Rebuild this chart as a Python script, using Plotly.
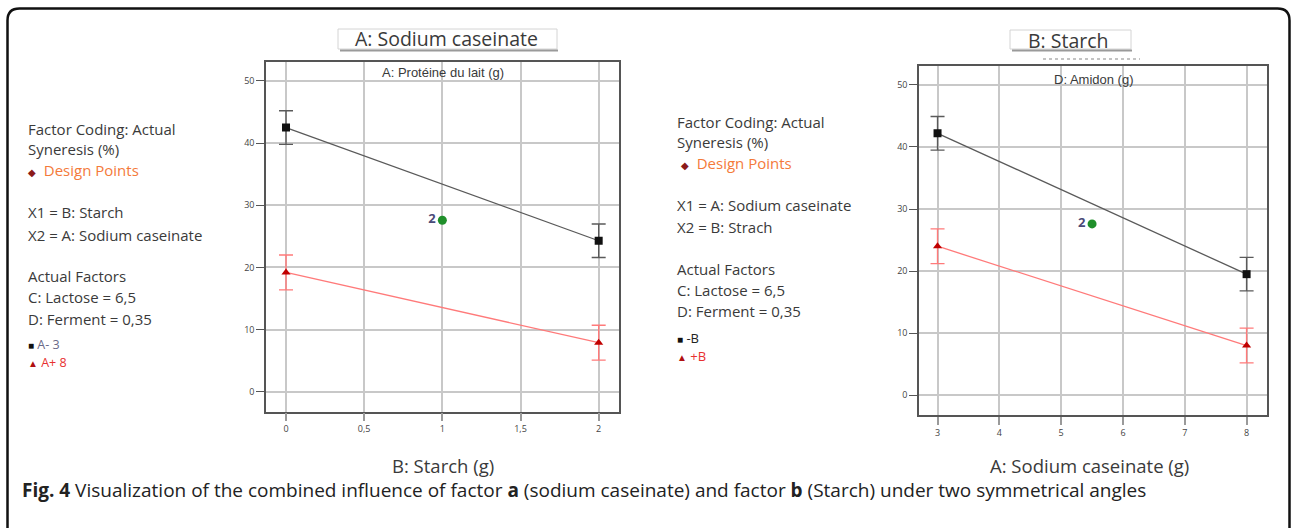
import plotly.graph_objects as go

W, H = 1292, 528

# ---------------- data ----------------
left_x = [0, 2]
left_low = [42.5, 24.3]        # A- 3
left_low_err = [2.7, 2.7]
left_high = [19.2, 7.9]        # A+ 8
left_high_err = [2.8, 2.8]
left_design_x = [1]
left_design_y = [27.6]
left_xticks = [0, 0.5, 1, 1.5, 2]
left_xticktext = ["0", "0,5", "1", "1,5", "2"]

right_x = [3, 8]
right_low = [42.2, 19.5]       # -B
right_low_err = [2.7, 2.7]
right_high = [24.0, 8.0]       # +B
right_high_err = [2.8, 2.8]
right_design_x = [5.5]
right_design_y = [27.6]
right_xticks = [3, 4, 5, 6, 7, 8]
right_xticktext = ["3", "4", "5", "6", "7", "8"]

y_ticks = [0, 10, 20, 30, 40, 50]

BLACK_LINE = "#5a5a5a"
RED_LINE = "#ff7a7a"
RED_MARK = "#c00000"
GREEN = "#1f8f2a"
TXT = "#3a3a3a"
FONT = "Open Sans"


def px(x):
    return x / W


def py(y):
    return 1 - y / H


fig = go.Figure()


def add_panel(xs, low, low_err, high, high_err, dx, dy, xa, ya):
    fig.add_trace(go.Scatter(
        x=xs, y=low, mode="lines+markers", xaxis=xa, yaxis=ya,
        line=dict(color=BLACK_LINE, width=1.3),
        marker=dict(symbol="square", size=8, color="#111111"),
        error_y=dict(type="data", array=low_err, visible=True,
                     color=BLACK_LINE, thickness=1.4, width=7),
        showlegend=False))
    fig.add_trace(go.Scatter(
        x=xs, y=high, mode="lines+markers", xaxis=xa, yaxis=ya,
        line=dict(color=RED_LINE, width=1.3),
        marker=dict(symbol="triangle-up", size=8, color=RED_MARK),
        error_y=dict(type="data", array=high_err, visible=True,
                     color=RED_LINE, thickness=1.4, width=7),
        showlegend=False))
    fig.add_trace(go.Scatter(
        x=dx, y=dy, mode="markers+text", xaxis=xa, yaxis=ya,
        marker=dict(symbol="circle", size=9, color=GREEN),
        text=["<b>2</b>"], textposition="middle left",
        textfont=dict(family=FONT, size=13, color="#4a4a78"),
        showlegend=False))


add_panel(left_x, left_low, left_low_err, left_high, left_high_err,
          left_design_x, left_design_y, "x", "y")
add_panel(right_x, right_low, right_low_err, right_high, right_high_err,
          right_design_x, right_design_y, "x2", "y2")

axis_common = dict(
    showgrid=True, gridcolor="#c8c8c8", gridwidth=2,
    showline=True, linecolor="#555555", linewidth=1.5, mirror=True,
    ticks="outside", ticklen=8, tickcolor="#9a9a9a", tickwidth=2,
    tickfont=dict(family=FONT, size=9, color="#444444"),
    zeroline=False, fixedrange=True,
)

fig.update_layout(
    width=W, height=H, autosize=False,
    margin=dict(l=0, r=0, t=0, b=0),
    paper_bgcolor="white", plot_bgcolor="white",
    xaxis=dict(domain=[px(266), px(619)], range=[-0.128, 2.13],
               tickvals=left_xticks, ticktext=left_xticktext,
               anchor="y", **axis_common),
    yaxis=dict(domain=[py(411.7), py(61.7)], range=[-3.2, 53.1],
               tickvals=y_ticks, anchor="x", **axis_common),
    xaxis2=dict(domain=[px(919), px(1267)], range=[2.70, 8.33],
                tickvals=right_xticks, ticktext=right_xticktext,
                anchor="y2", **axis_common),
    yaxis2=dict(domain=[py(415), py(65.7)], range=[-3.2, 53.1],
                tickvals=y_ticks, anchor="x2", **axis_common),
)
fig.update_yaxes(ticklen=8, tickcolor="#555555", tickwidth=1)

shapes = []
# outer rounded border (open at the bottom)
r = 12
x0, x1, yt = 7.5, 1289.5, 8.5
path = (f"M {px(x0)},{py(H + 5)} L {px(x0)},{py(yt + r)} "
        f"Q {px(x0)},{py(yt)} {px(x0 + r)},{py(yt)} "
        f"L {px(x1 - r)},{py(yt)} Q {px(x1)},{py(yt)} {px(x1)},{py(yt + r)} "
        f"L {px(x1)},{py(H + 5)}")
shapes.append(dict(type="path", xref="paper", yref="paper", path=path,
                   line=dict(color="#111111", width=2.5)))

# title boxes
for (bx0, bx1, by0, by1) in [(338, 557, 29, 49), (1010, 1131, 30, 49)]:
    shapes.append(dict(type="rect", xref="paper", yref="paper",
                       x0=px(bx0), x1=px(bx1), y0=py(by1), y1=py(by0),
                       line=dict(color="#d4d4d4", width=1), fillcolor="white",
                       layer="below"))
    shapes.append(dict(type="line", xref="paper", yref="paper",
                       x0=px(bx0 + 2), x1=px(bx1 + 1), y0=py(by1 + 1.5), y1=py(by1 + 1.5),
                       line=dict(color="#9a9a9a", width=2)))
# dotted line under "B: Starch"
shapes.append(dict(type="line", xref="paper", yref="paper",
                   x0=px(1043), x1=px(1140), y0=py(59), y1=py(59),
                   line=dict(color="#b0b0b0", width=1.5, dash="dot")))
fig.update_layout(shapes=shapes)

ann = []


def text(x, y, s, size=15, color=TXT, anchor="left", family=FONT, yanchor="middle"):
    ann.append(dict(xref="paper", yref="paper", x=px(x), y=py(y), text=s,
                    showarrow=False, xanchor=anchor, yanchor=yanchor,
                    borderpad=0,
                    font=dict(family=family, size=size, color=color)))


# panel titles
text(446, 38.5, "A: Sodium caseinate", size=19.5, anchor="center")
text(1068, 40, "B: Starch", size=19.5, anchor="center")
text(443, 73, "A: Protéine du lait (g)", size=13, anchor="center",
     family="Liberation Sans")
text(1093, 80, "D: Amidon (g)", size=13, anchor="center",
     family="Liberation Sans")
# axis titles
text(443, 465, "B: Starch (g)", size=18.5, anchor="center")
text(1089, 465, "A: Sodium caseinate (g)", size=18.5, anchor="center")

DP = ("<span style='color:#8b1a1a;font-size:10px'>◆</span>"
      "  <span style='color:#f47a3a'>Design Points</span>")

left_lines = [
    (129, "Factor Coding: Actual", 15),
    (149, "Syneresis (%)", 15),
    (170, DP, 15),
    (212, "X1 = B: Starch", 15),
    (235, "X2 = A: Sodium caseinate", 15),
    (276, "Actual Factors", 15),
    (297, "C: Lactose = 6,5", 15),
    (319, "D: Ferment = 0,35", 15),
    (344, "<span style='color:#111;font-size:10px'>■</span> "
          "<span style='color:#6a6a88'>A- 3</span>", 12.5),
    (362.5, "<span style='color:#b01010;font-size:10px'>▲</span> "
            "<span style='color:#e83030'>A+ 8</span>", 12.5),
]
for y, s, fs in left_lines:
    text(27, y, s, size=fs)

right_lines = [
    (122, "Factor Coding: Actual", 15),
    (142, "Syneresis (%)", 15),
    (163, " " + DP, 15),
    (205, "X1 = A: Sodium caseinate", 15),
    (227, "X2 = B: Strach", 15),
    (269, "Actual Factors", 15),
    (290, "C: Lactose = 6,5", 15),
    (311, "D: Ferment = 0,35", 15),
    (338, "<span style='color:#111;font-size:10px'>■</span> "
          "<span style='color:#222'>-B</span>", 13),
    (356, "<span style='color:#b01010;font-size:10px'>▲</span> "
          "<span style='color:#e83030'>+B</span>", 13),
]
for y, s, fs in right_lines:
    text(676, y, s, size=fs)

# caption
text(21, 489.5,
     "<b>Fig. 4</b> Visualization of the combined influence of factor <b>a</b> "
     "(sodium caseinate) and factor <b>b</b> (Starch) under two symmetrical angles",
     size=19, color="#222222")

fig.update_layout(annotations=ann)
fig.write_html("out.html")
